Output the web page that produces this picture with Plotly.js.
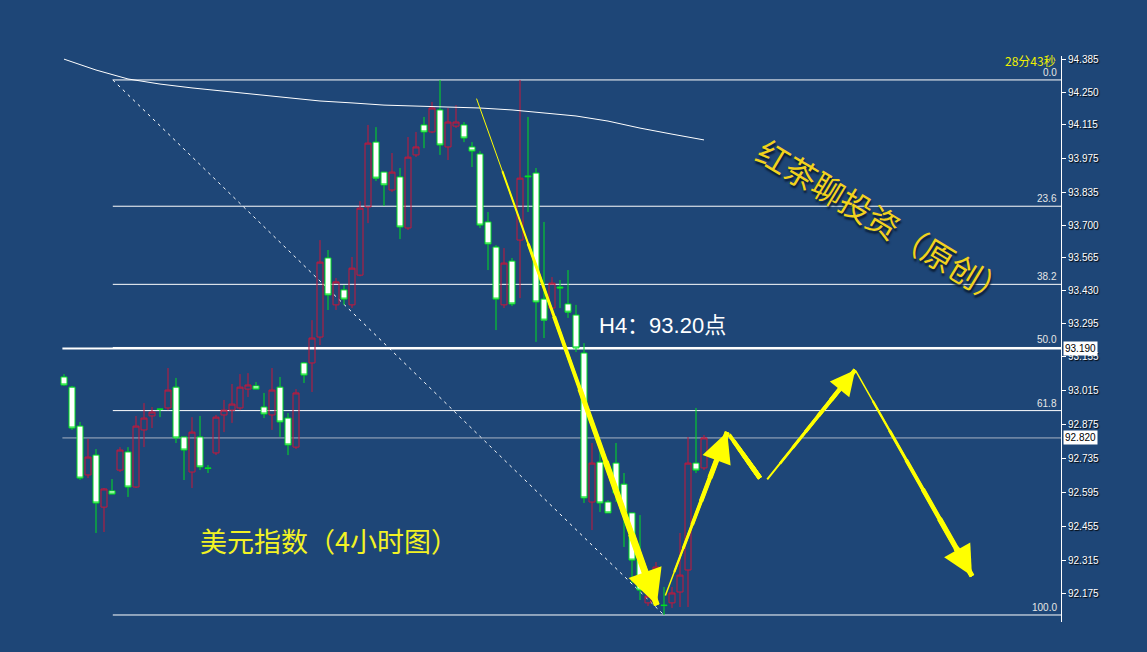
<!DOCTYPE html>
<html><head><meta charset="utf-8">
<script src="https://cdn.plot.ly/plotly-3.0.1.min.js"></script>
<style>html,body{margin:0;padding:0;background:#1e4677;}#chart{width:1147px;height:652px;}</style>
</head><body><div id="chart"></div>
<script>
// ---- candle data (4H US Dollar Index) ----
const opens = [
93.072, 93.030, 92.869, 92.667, 92.749, 92.534, 92.601, 92.687, 92.762, 92.617,
92.853, 92.911, 92.940, 92.944, 93.030, 92.824, 92.679, 92.824, 92.696, 92.758,
92.915, 92.935, 92.944, 93.022, 93.035, 92.948, 92.915, 93.030, 92.902, 92.782,
93.130, 93.130, 93.237, 93.564, 93.370, 93.432, 93.370, 93.493, 93.775, 94.043,
93.919, 93.845, 93.899, 93.688, 93.990, 94.114, 94.085, 94.176, 94.023, 94.109,
94.114, 94.023, 93.994, 93.713, 93.609, 93.370, 93.551, 93.638, 93.903, 93.915,
93.394, 93.357, 93.444, 93.374, 93.328, 93.171, 92.555, 92.720, 92.555, 92.716,
92.629, 92.510, 92.315, 92.138, 92.241, 92.129, 92.138, 92.183, 92.274, 92.716,
92.696];
const highs = [
93.084, 93.035, 92.886, 92.816, 92.774, 92.613, 92.650, 92.782, 92.782, 92.911,
92.964, 92.948, 92.941, 93.109, 93.068, 92.824, 92.906, 92.911, 92.708, 92.915,
92.977, 93.043, 93.084, 93.088, 93.051, 93.006, 93.109, 93.072, 92.923, 93.022,
93.134, 93.307, 93.638, 93.597, 93.481, 93.452, 93.568, 93.799, 94.114, 94.105,
93.919, 93.998, 93.936, 94.064, 94.085, 94.147, 94.209, 94.300, 94.184, 94.196,
94.126, 94.043, 94.006, 93.754, 93.617, 93.605, 93.564, 94.300, 94.147, 93.936,
93.713, 93.485, 93.473, 93.514, 93.370, 93.212, 92.799, 92.782, 92.563, 92.799,
92.675, 92.510, 92.501, 92.191, 92.307, 92.204, 92.204, 92.427, 92.824, 92.944,
92.832];
const lows = [
93.035, 92.853, 92.646, 92.654, 92.427, 92.431, 92.588, 92.679, 92.576, 92.613,
92.782, 92.861, 92.906, 92.935, 92.799, 92.646, 92.613, 92.687, 92.675, 92.749,
92.844, 92.882, 92.935, 92.989, 93.022, 92.902, 92.853, 92.824, 92.749, 92.774,
93.047, 93.010, 93.204, 93.349, 93.349, 93.370, 93.357, 93.488, 93.708, 93.882,
93.779, 93.837, 93.642, 93.680, 93.981, 94.018, 94.080, 93.990, 93.969, 94.101,
94.043, 93.940, 93.688, 93.514, 93.266, 93.357, 93.365, 93.398, 93.754, 93.217,
93.233, 93.328, 93.357, 93.316, 93.175, 92.551, 92.439, 92.514, 92.510, 92.555,
92.369, 92.220, 92.150, 92.125, 92.220, 92.088, 92.117, 92.121, 92.121, 92.675,
92.687];
const closes = [
93.039, 92.861, 92.654, 92.741, 92.551, 92.609, 92.588, 92.770, 92.617, 92.869,
92.902, 92.927, 92.938, 93.018, 92.820, 92.770, 92.844, 92.700, 92.694, 92.906,
92.935, 92.960, 93.030, 93.039, 93.022, 92.919, 93.018, 92.886, 92.791, 93.006,
93.080, 93.233, 93.547, 93.411, 93.465, 93.394, 93.522, 93.770, 94.039, 93.894,
93.866, 93.919, 93.692, 93.981, 94.023, 94.085, 94.184, 94.031, 94.126, 94.126,
94.060, 94.006, 93.700, 93.622, 93.394, 93.543, 93.374, 93.894, 93.900, 93.382,
93.307, 93.460, 93.440, 93.340, 93.192, 92.572, 92.716, 92.551, 92.510, 92.592,
92.510, 92.315, 92.191, 92.166, 92.286, 92.127, 92.179, 92.253, 92.716, 92.687,
92.820];

// moving average read at sparse bar positions
const maIdx = [0, 4, 8, 12, 16, 20, 24, 28, 32, 36, 40, 44, 48, 52, 56, 60, 64, 68, 72, 76, 80];
const maVal = [94.386, 94.341, 94.304, 94.283, 94.267, 94.254, 94.242, 94.229, 94.213, 94.205,
               94.196, 94.192, 94.188, 94.184, 94.176, 94.163, 94.151, 94.130, 94.101, 94.076, 94.052];

// axis ticks
const tickVals = [94.385, 94.250, 94.115, 93.975, 93.835, 93.700, 93.565, 93.430, 93.295,
                  93.155, 93.015, 92.875, 92.735, 92.595, 92.455, 92.315, 92.175];

// Fibonacci retracement
const fibHigh = 94.300;
const fibLow = 92.088;
const fibStartIdx = 6.1;
const fibEndIdx = 75;
const fibLevels = [0.0, 23.6, 38.2, 50.0, 61.8, 100.0];
const fibLabels = ["0.0", "23.6", "38.2", "50.0", "61.8", "100.0"];

// marked prices
const keyLevel = 93.190;
const lastPrice = 92.820;

// hand-drawn arrows (bar index, price)
const arrowFromX = [51.5, 75.1, 83.0, 87.75, 98.9];
const arrowFromY = [94.229, 92.162, 92.840, 92.642, 93.101];
const arrowToX   = [74.1, 82.9, 87.0, 98.9, 113.5];
const arrowToY   = [92.129, 92.844, 92.654, 93.101, 92.249];

// texts
const titleText = "美元指数（4小时图）";
const noteText = "H4：93.20点";
const brandText = "红茶聊投资（原创）";
const timerText = "28分43秒";

// ---- styles ----
const BG = '#1e4677';
const arrowW0 = [1, 1.5, 4, 2, 1.5];
const arrowW1 = [7, 6, 5, 5, 6];
const xRange = [-8, 124.625];
const yRange = [92.059, 94.399];

const idx = opens.map((_, i) => i);

const traces = [
  {type: 'scatter', mode: 'lines', x: maIdx, y: maVal, line: {color: '#ffffff', width: 1},
   hoverinfo: 'skip', showlegend: false},
  {type: 'candlestick', x: idx, open: opens, high: highs, low: lows, close: closes,
   increasing: {line: {color: '#c8173a', width: 1}, fillcolor: 'rgba(0,0,0,0)'},
   decreasing: {line: {color: '#00e020', width: 1}, fillcolor: '#ffffff'},
   whiskerwidth: 0, showlegend: false, hoverinfo: 'skip'}
];

const range = fibHigh - fibLow;
const shapes = [];
const annotations = [];
fibLevels.forEach((lv, i) => {
  const p = fibHigh - lv / 100 * range;
  shapes.push({type: 'line', xref: 'x', yref: 'y', x0: fibStartIdx, x1: xRange[1], y0: p, y1: p,
               line: {color: '#ffffff', width: 1}, layer: 'below'});
  annotations.push({xref: 'paper', yref: 'y', x: 1, y: p, xanchor: 'right', yanchor: 'bottom',
               xshift: -2, yshift: 0, text: fibLabels[i], showarrow: false,
               font: {family: 'Liberation Sans, Arial', size: 10, color: '#e6e6e6'}});
});
// trend line of the fib
shapes.push({type: 'line', xref: 'x', yref: 'y', x0: fibStartIdx, y0: fibHigh, x1: fibEndIdx, y1: fibLow,
             line: {color: '#ffffff', width: 1, dash: '3px,4px'}, layer: 'below'});
// key level (thick) and last price (gray)
shapes.push({type: 'line', xref: 'x', yref: 'y', x0: -0.2, x1: xRange[1], y0: keyLevel, y1: keyLevel,
             line: {color: '#ffffff', width: 2}, layer: 'below'});
shapes.push({type: 'line', xref: 'x', yref: 'y', x0: -0.2, x1: xRange[1], y0: lastPrice, y1: lastPrice,
             line: {color: '#a9b3c4', width: 1}, layer: 'below'});

// price boxes on the axis
[keyLevel, lastPrice].forEach(p => {
  annotations.push({xref: 'paper', yref: 'y', x: 1, y: p, xanchor: 'left', yanchor: 'middle', xshift: 2,
    text: p.toFixed(3), showarrow: false, bgcolor: '#ffffff', borderpad: 1,
    font: {family: 'Liberation Sans, Arial', size: 10, color: '#000000'}});
});

// arrows drawn as tapered stacks
const N = 7;
arrowFromX.forEach((x0, a) => {
  const y0 = arrowFromY[a], x1 = arrowToX[a], y1 = arrowToY[a];
  for (let k = 0; k < N; k++) {
    const t = k / N;
    const w = arrowW0[a] + (arrowW1[a] - arrowW0[a]) * k / (N - 1);
    const last = k === N - 1;
    annotations.push({xref: 'x', yref: 'y', axref: 'x', ayref: 'y',
      x: x1, y: y1, ax: x0 + (x1 - x0) * t, ay: y0 + (y1 - y0) * t,
      text: '', showarrow: true, arrowcolor: '#ffff00', arrowwidth: w,
      arrowhead: last ? 2 : 0, arrowsize: last ? 1.0 : 1, standoff: 0});
  }
});

annotations.push({xref: 'x', yref: 'y', x: 66.6, y: 93.283, xanchor: 'left', yanchor: 'middle',
  text: noteText, showarrow: false,
  font: {family: 'Liberation Sans, Noto Sans CJK SC', size: 22, color: '#ffffff'}});
annotations.push({xref: 'x', yref: 'y', x: 33.1, y: 92.394, xanchor: 'center', yanchor: 'middle',
  text: titleText, showarrow: false,
  font: {family: 'Noto Sans CJK SC', size: 27, color: '#f2f224'}});
annotations.push({xref: 'x', yref: 'y', x: 102.5, y: 93.715, xanchor: 'center', yanchor: 'middle',
  text: brandText, showarrow: false, textangle: 31,
  font: {family: 'Noto Sans CJK SC', size: 32, color: '#f2d21c', shadow: '2px 2px 2px #0a1a30'}});
annotations.push({xref: 'paper', yref: 'paper', x: 1, y: 1, xanchor: 'right', yanchor: 'top',
  xshift: -3, yshift: 6, text: timerText, showarrow: false,
  font: {family: 'Noto Sans CJK SC', size: 12, color: '#f0f000'}});

const layout = {
  width: 1147, height: 652,
  margin: {l: 0, r: 86, t: 56, b: 30},
  paper_bgcolor: BG, plot_bgcolor: BG,
  showlegend: false, hovermode: false, dragmode: false,
  boxgap: 0.25, boxgroupgap: 0,
  xaxis: {range: xRange, visible: false, showgrid: false, zeroline: false,
          rangeslider: {visible: false}, fixedrange: true},
  yaxis: {range: yRange, side: 'right', showgrid: false, zeroline: false,
          showline: true, linecolor: '#ffffff', linewidth: 1,
          ticks: 'outside', ticklen: 4, tickcolor: '#ffffff', tickwidth: 1,
          tickvals: tickVals, tickformat: '.3f',
          tickfont: {family: 'Liberation Sans, Arial', size: 10, color: '#ffffff', shadow: '1px 1px 1px #000'},
          fixedrange: true},
  shapes: shapes,
  annotations: annotations
};

Plotly.newPlot('chart', traces, layout, {displayModeBar: false, staticPlot: true});
</script>
</body></html>
